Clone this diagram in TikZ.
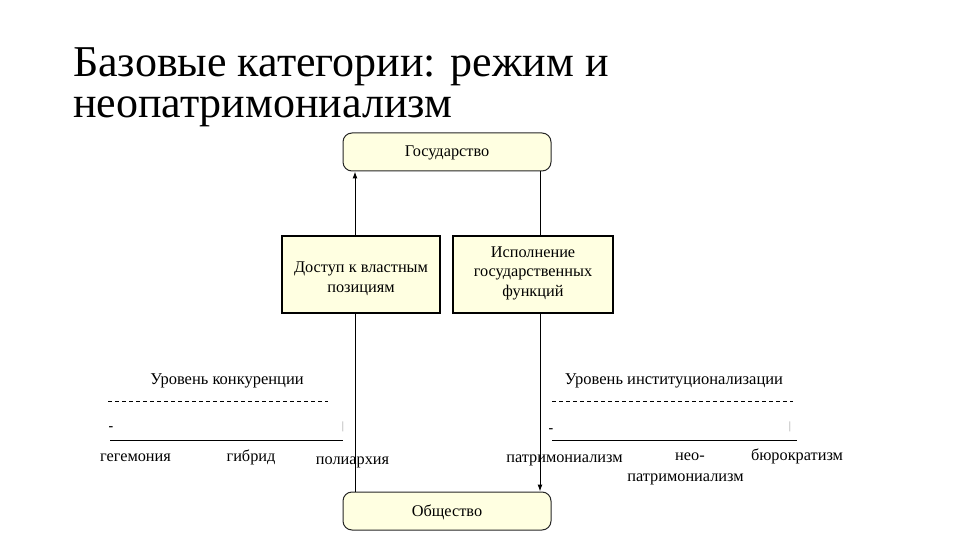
\documentclass[tikz,border=0pt]{standalone}
\usepackage{fontspec}
\setmainfont{Liberation Serif}
\usetikzlibrary{arrows.meta}
\definecolor{boxfill}{RGB}{255,255,225}
\definecolor{tickgray}{RGB}{150,150,150}
\tikzset{
  titletext/.style={anchor=base west, font=\fontsize{44}{41}\selectfont, inner sep=0pt},
  roundbox/.style={draw=black!85, line width=1pt, fill=boxfill, rounded corners=9pt,
    minimum width=208pt, minimum height=38pt, font=\fontsize{16.3}{18}\selectfont, inner sep=0pt,
    text height=12pt, text depth=2pt},
  rectbox/.style={draw=black, line width=1.6pt, fill=boxfill, minimum height=77pt,
    align=center, font=\fontsize{16.3}{19.5}\selectfont, inner sep=0pt},
  lbl/.style={anchor=base, font=\fontsize{16.3}{19}\selectfont, inner sep=0pt},
  scaletitle/.style={anchor=base, font=\fontsize{16.5}{18}\selectfont, inner sep=0pt},
  dashline/.style={line width=0.7pt, dash pattern=on 4pt off 3pt},
  axisline/.style={line width=1pt},
  conn/.style={line width=1pt, -{Latex[length=7pt,width=5pt]}},
  markminus/.style={anchor=center, font=\fontsize{14}{14}\selectfont\bfseries, inner sep=0pt},
  markbar/.style={anchor=center, text=tickgray, font=\fontsize{11}{11}\selectfont, inner sep=0pt}
}
\begin{document}
\begin{tikzpicture}[x=1pt,y=-1pt]
\useasboundingbox (0,0) rectangle (960,540);
% title
\node[titletext] (t1) at (73,77) {Базовые категории: режим и};
\node[titletext] (t2) at (73,118) {неопатримониализм};
% top and bottom boxes
\node[roundbox] (gos) at (447,152) {Государство};
\node[roundbox] (obs) at (447,511) {Общество};
% vertical connectors
\coordinate (lx) at (355,0);
\coordinate (rx) at (540,0);
\draw[conn] (obs.north -| lx) -- (gos.south -| lx);
\draw[conn] (gos.south -| rx) -- (obs.north -| rx);
% middle boxes
\node[rectbox, minimum width=158pt, text height=38pt, text depth=3pt] (dost) at (361,274.5) {Доступ к властным\\позициям};
\node[rectbox, minimum width=160pt, text height=46pt, text depth=3pt] (isp) at (533,274.5) {Исполнение\\государственных\\функций};
% left scale
\node[scaletitle] (lt) at (227,384) {Уровень конкуренции};
\coordinate (ld1) at (108,401);
\coordinate (ld2) at (328,401);
\draw[dashline] (ld1) -- (ld2);
\node[markminus] (lm) at (111,429) {-};
\node[markbar] (lb) at (343,427) {|};
\coordinate (la1) at (110,440);
\coordinate (la2) at (343,440);
\draw[axisline] (la1) -- (la2);
\node[lbl] (heg) at (135.5,461) {гегемония};
\node[lbl] (gib) at (251,461) {гибрид};
\node[lbl] (pol) at (352.5,464) {полиархия};
% right scale
\node[scaletitle] (rt) at (674,384) {Уровень институционализации};
\coordinate (rd1) at (552,401);
\coordinate (rd2) at (793,401);
\draw[dashline] (rd1) -- (rd2);
\node[markminus] (rm) at (551,431) {-};
\node[markbar] (rb) at (790,427) {|};
\coordinate (ra1) at (552,440);
\coordinate (ra2) at (797,440);
\draw[axisline] (ra1) -- (ra2);
\node[lbl] (pat) at (564.5,462) {патримониализм};
\node[lbl] (neo1) at (690,460) {нео-};
\node[lbl] (neo2) at (685.5,481) {патримониализм};
\node[lbl] (bur) at (797,460) {бюрократизм};
\end{tikzpicture}
\end{document}
